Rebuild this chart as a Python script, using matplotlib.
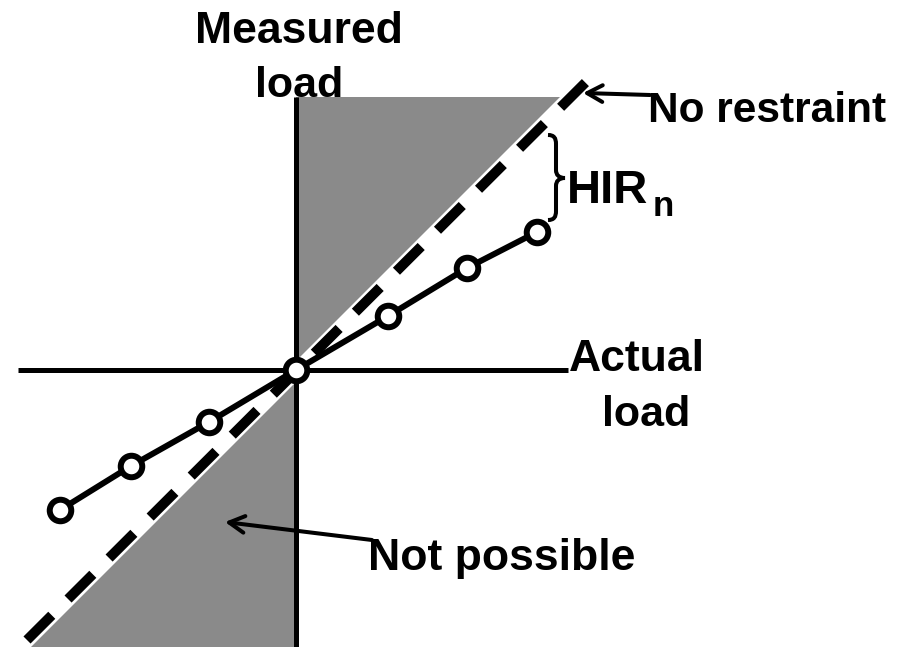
import matplotlib.pyplot as plt
from matplotlib.path import Path
from matplotlib.patches import PathPatch, Polygon

plt.rcParams['font.family'] = ['Liberation Sans', 'DejaVu Sans']

# measured vs actual load (arbitrary units, origin at zero load)
actual = [-236, -165, -87, 0, 92, 171, 241]
measured = [-140, -96, -52, 0, 54, 102, 138]

# no-restraint reference line ends
ref_x = [-269, 297]
ref_y = [-270, 295]

# shaded "not possible" regions
upper_region = [(0, 9), (0, 273), (264, 273)]
lower_region = [(0, -12), (0, -277), (-265, -277)]

fig = plt.figure(figsize=(9.2, 6.47), dpi=100)
ax = fig.add_axes([0, 0, 1, 1])
ax.set_xlim(-296, 624)
ax.set_ylim(-277, 370)
ax.axis('off')

grey = '#8a8a8a'
ax.add_patch(Polygon(upper_region, closed=True, facecolor=grey, edgecolor='none', zorder=1))
ax.add_patch(Polygon(lower_region, closed=True, facecolor=grey, edgecolor='none', zorder=1))

# axes lines
ax.plot([-278, 272], [0, 0], color='black', lw=3.6, solid_capstyle='butt', zorder=2)
ax.plot([0, 0], [-277, 273], color='black', lw=3.6, solid_capstyle='butt', zorder=2)

# no restraint line
ax.plot(ref_x, ref_y, color='black', lw=7.2, linestyle=(0, (3.5, 2.3)),
        dash_capstyle='butt', zorder=3)

# measured series
ax.plot(actual, measured, color='black', lw=4.3, marker='o', markersize=15.5,
        markerfacecolor='white', markeredgecolor='black', markeredgewidth=4.3, zorder=4)

# brace for HIR_n
verts = [(252, 235), (258, 235), (260, 232), (260, 226),
         (260, 200),
         (260, 195), (263, 192), (269, 192),
         (263, 192), (260, 189), (260, 184),
         (260, 159),
         (260, 153), (258, 150), (252, 150)]
codes = [Path.MOVETO, Path.CURVE4, Path.CURVE4, Path.CURVE4,
         Path.LINETO,
         Path.CURVE4, Path.CURVE4, Path.CURVE4,
         Path.CURVE4, Path.CURVE4, Path.CURVE4,
         Path.LINETO,
         Path.CURVE4, Path.CURVE4, Path.CURVE4]
ax.add_patch(PathPatch(Path(verts, codes), facecolor='none', edgecolor='black', lw=2.9, zorder=3))

bold = dict(fontweight='bold', va='baseline')
ax.text(2.5, 327, 'Measured', ha='center', fontsize=32, **bold)
ax.text(3, 273, 'load', ha='center', fontsize=31, **bold)
ax.text(341, -1, 'Actual', ha='center', fontsize=32, **bold)
ax.text(350, -56, 'load', ha='center', fontsize=31, **bold)
ax.text(271, 167, 'HIR', ha='left', fontsize=34, **bold)
ax.text(357, 154, 'n', ha='left', fontsize=25, **bold)
ax.text(352, 248, 'No restraint', ha='left', fontsize=30.5, **bold)
ax.text(72, -200, 'Not possible', ha='left', fontsize=32, **bold)

arrow = dict(arrowstyle='->,head_length=1.1,head_width=0.6', color='black', lw=2.9,
             shrinkA=0, shrinkB=0, mutation_scale=10)
ax.annotate('', xy=(287, 277), xytext=(354, 275), arrowprops=arrow, zorder=5)
ax.annotate('', xy=(-71, -152), xytext=(76, -170), arrowprops=arrow, zorder=5)

fig.savefig('out.png', dpi=100)
